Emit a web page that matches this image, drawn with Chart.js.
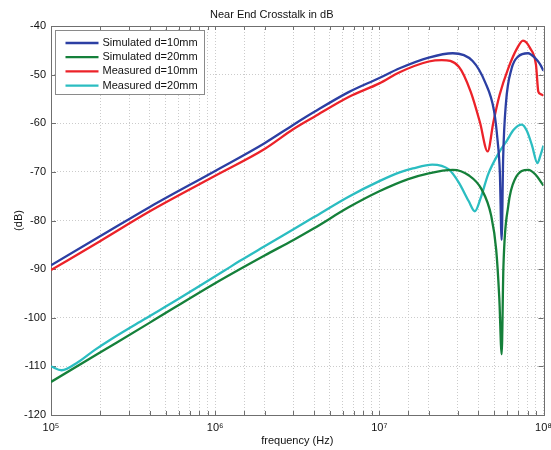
<!DOCTYPE html>
<html>
<head>
<meta charset="utf-8">
<script src="https://cdn.jsdelivr.net/npm/chart.js@4.4.0/dist/chart.umd.min.js"></script>
<style>
  html, body { margin: 0; padding: 0; background: #fff; }
</style>
</head>
<body>
<canvas id="crosstalk" width="551" height="450"></canvas>
<script>
// frequency (Hz) / crosstalk (dB)
const freqSim10 = [1e5, 2e5, 4e5, 1e6, 2e6, 3e6, 4e6, 6.5e6, 1e7, 1.33e7, 2e7, 2.8e7, 3.7e7, 4.4e7, 5e7, 5.25e7, 5.42e7, 5.56e7, 5.68e7, 5.9e7, 6.4e7, 7e7, 8.05e7, 8.9e7, 9.5e7, 1e8];
const simD10 = [-89.2, -83.2, -77.2, -69.8, -64.1, -60.3, -57.7, -53.6, -50.7, -48.7, -46.5, -45.6, -47.2, -51.5, -57.5, -63.5, -70, -84, -67, -56, -48.7, -46.3, -45.6, -46.6, -47.8, -49.2];

const freqSim20 = [1e5, 2e5, 4e5, 1e6, 2e6, 3e6, 4e6, 6.5e6, 1e7, 1.5e7, 2e7, 2.8e7, 3.5e7, 4.2e7, 4.8e7, 5.15e7, 5.38e7, 5.56e7, 5.7e7, 6.1e7, 6.7e7, 8.1e7, 8.9e7, 1e8];
const simD20 = [-113.2, -107.1, -101.0, -92.9, -87.2, -84.0, -81.6, -77.3, -74.0, -71.5, -70.3, -69.6, -70.7, -73.6, -79, -86, -96, -107.5, -89.5, -77, -71.5, -69.6, -70.5, -72.8];

const freqMeas10 = [1e5, 2e5, 4e5, 1e6, 2e6, 3e6, 4e6, 6.5e6, 1e7, 1.33e7, 2e7, 2.4e7, 3.05e7, 3.6e7, 4.1e7, 4.57e7, 4.95e7, 5.4e7, 6.1e7, 6.9e7, 7.5e7, 8.3e7, 9e7, 9.3e7, 9.6e7, 1e8];
const measD10 = [-90.2, -84.2, -78.1, -70.8, -65.3, -61.2, -58.7, -54.6, -51.8, -49.5, -47.3, -47.0, -48.4, -53.5, -59.8, -65.8, -59.8, -54.2, -48.7, -44.6, -43.0, -44.6, -48.0, -53.5, -54.0, -54.3];

const freqMeas20 = [1e5, 1.16e5, 1.45e5, 1.85e5, 2.35e5, 3.7e5, 6e5, 1.14e6, 1.4e6, 2e6, 3e6, 4e6, 6.5e6, 1e7, 1.33e7, 1.6e7, 2.1e7, 2.65e7, 3.05e7, 3.5e7, 3.82e7, 4.15e7, 4.6e7, 5.3e7, 6e7, 6.6e7, 7.36e7, 7.9e7, 8.5e7, 9.18e7, 9.6e7, 1e8];
const measD20 = [-110, -110.8, -109.2, -106.6, -104.3, -100.3, -96.1, -90.3, -88.4, -85.3, -81.8, -79.3, -75.1, -71.9, -70.1, -69.3, -68.5, -69.5, -72.2, -76, -78.1, -75.3, -70.5, -66.3, -63.5, -61.3, -60.3, -61.5, -64.5, -68.2, -66.5, -64.6];

const seriesNames = ['Simulated d=10mm', 'Simulated d=20mm', 'Measured d=10mm', 'Measured d=20mm'];
const seriesColors = ['#2c3fa3', '#15803a', '#ec2229', '#2bbdc1'];

const xTickValues = [1e5, 1e6, 1e7, 1e8];
const xTickLabels = ['10\u2075', '10\u2076', '10\u2077', '10\u2078'];

const FONT = 'Arial, "Liberation Sans", sans-serif';

function pts(xs, ys) {
  return xs.map((x, i) => ({ x: x, y: ys[i] }));
}

const allData = [pts(freqSim10, simD10), pts(freqSim20, simD20), pts(freqMeas10, measD10), pts(freqMeas20, measD20)];

const datasets = allData.map((d, i) => ({
  label: seriesNames[i],
  data: d,
  borderColor: seriesColors[i],
  backgroundColor: seriesColors[i],
  borderWidth: 2.3,
  pointRadius: 0,
  fill: false,
  cubicInterpolationMode: 'monotone'
}));

// frame + little inside ticks, matlab style
const framePlugin = {
  id: 'frame',
  beforeDatasetsDraw(chart) {
    const ctx = chart.ctx;
    const a = chart.chartArea;
    ctx.save();
    ctx.strokeStyle = '#6f6f6f';
    ctx.lineWidth = 1;
    ctx.beginPath();
    chart.scales.x.ticks.forEach(t => {
      const px = Math.round(chart.scales.x.getPixelForValue(t.value)) + 0.5;
      ctx.moveTo(px, a.bottom); ctx.lineTo(px, a.bottom - 4);
      ctx.moveTo(px, a.top); ctx.lineTo(px, a.top + 4);
    });
    chart.scales.y.ticks.forEach(t => {
      const py = Math.round(chart.scales.y.getPixelForValue(t.value)) + 0.5;
      ctx.moveTo(a.left, py); ctx.lineTo(a.left + 5, py);
      ctx.moveTo(a.right, py); ctx.lineTo(a.right - 5, py);
    });
    ctx.stroke();
    ctx.strokeRect(Math.round(a.left) + 0.5, Math.round(a.top) + 0.5, Math.round(a.right - a.left), Math.round(a.bottom - a.top));
    ctx.restore();
  }
};

const legendBoxPlugin = {
  id: 'legendBox',
  afterDatasetsDraw(chart) {
    const ctx = chart.ctx;
    const a = chart.chartArea;
    const x0 = a.left + 4.5, y0 = a.top + 4.5, w = 149, h = 64;
    ctx.save();
    ctx.fillStyle = '#fff';
    ctx.fillRect(x0, y0, w, h);
    ctx.strokeStyle = '#8a8a8a';
    ctx.lineWidth = 1;
    ctx.strokeRect(x0, y0, w, h);
    ctx.font = '11px ' + FONT;
    ctx.textBaseline = 'middle';
    ctx.textAlign = 'left';
    chart.data.datasets.forEach((ds, i) => {
      const yy = y0 + 12.5 + i * 14.2;
      ctx.strokeStyle = ds.borderColor;
      ctx.lineWidth = 2.3;
      ctx.beginPath();
      ctx.moveTo(x0 + 10, yy);
      ctx.lineTo(x0 + 43, yy);
      ctx.stroke();
      ctx.fillStyle = '#111';
      ctx.fillText(ds.label, x0 + 47, yy);
    });
    ctx.restore();
  }
};

const ctx = document.getElementById('crosstalk');

const chart = new Chart(ctx, {
  type: 'line',
  data: { datasets: datasets },
  options: {
    responsive: false,
    animation: false,
    devicePixelRatio: 1,
    layout: { padding: { left: 0, right: 7.5, top: 0, bottom: 0 } },
    plugins: {
      legend: { display: false },
      tooltip: { enabled: false },
      title: {
        display: true,
        text: 'Near End Crosstalk in dB',
        color: '#111',
        font: { family: FONT, size: 11, weight: 'normal' },
        padding: { top: 8.5, bottom: 4.3 }
      }
    },
    scales: {
      x: {
        type: 'logarithmic',
        min: 1e5,
        max: 1e8,
        afterFit(scale) {
          scale.height = 35;
          scale.paddingRight = 0;
          scale.paddingLeft = 0;
        },
        grid: { color: '#cbcbcb', lineWidth: 1, drawTicks: false },
        border: { display: false, dash: [1, 2] },
        ticks: {
          autoSkip: false,
          maxRotation: 0,
          padding: 6,
          color: '#111',
          font: { family: FONT, size: 11 },
          callback(value) {
            const k = xTickValues.indexOf(value);
            return k >= 0 ? xTickLabels[k] : '';
          }
        },
        title: {
          display: true,
          text: 'frequency (Hz)',
          color: '#111',
          font: { family: FONT, size: 11 },
          padding: { top: 0, bottom: 2.4 }
        }
      },
      y: {
        min: -120,
        max: -40,
        afterFit(scale) {
          scale.width = 51;
        },
        grid: { color: '#cbcbcb', lineWidth: 1, drawTicks: false },
        border: { display: false, dash: [1, 2] },
        ticks: {
          stepSize: 10,
          padding: 5,
          color: '#111',
          font: { family: FONT, size: 11 }
        },
        title: {
          display: true,
          text: '(dB)',
          color: '#111',
          font: { family: FONT, size: 11 },
          padding: { top: 12, bottom: 0 }
        }
      }
    }
  },
  plugins: [framePlugin, legendBoxPlugin]
});
</script>
</body>
</html>
